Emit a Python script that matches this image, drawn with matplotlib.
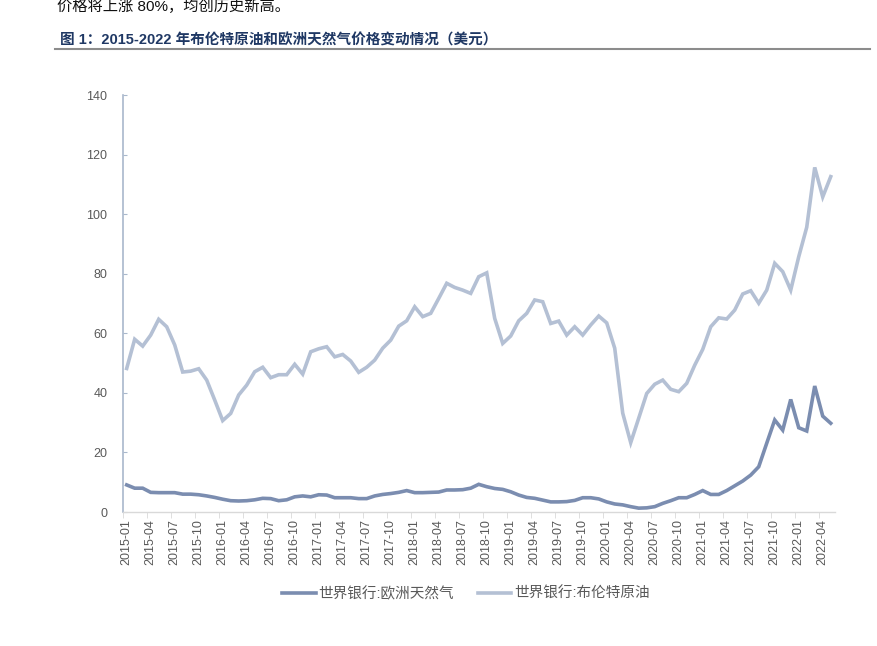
import matplotlib
matplotlib.use('Agg')
import matplotlib.pyplot as plt
import numpy as np

plt.rcParams['font.family'] = ['Liberation Sans', 'Noto Sans CJK SC', 'DejaVu Sans']

# monthly 2015-01 .. 2022-05
months = [f'{y}-{m:02d}' for y in range(2015, 2023) for m in range(1, 13)][:89]

brent = [48.2, 58.0, 55.7, 59.4, 64.7, 62.2, 56.1, 47.0, 47.3, 48.1, 44.3, 37.6,
         30.7, 33.1, 39.3, 42.6, 47.1, 48.6, 45.1, 46.1, 46.1, 49.6, 46.3, 53.8,
         54.8, 55.5, 52.1, 52.9, 50.7, 46.9, 48.6, 51.0, 55.0, 57.7, 62.4, 64.2,
         68.9, 65.6, 66.7, 71.7, 76.8, 75.4, 74.5, 73.4, 79.0, 80.3, 65.0, 56.6,
         59.1, 64.2, 66.7, 71.2, 70.6, 63.3, 64.1, 59.4, 62.2, 59.4, 62.8, 65.8,
         63.5, 55.0, 33.2, 23.3, 31.5, 39.8, 42.9, 44.3, 41.2, 40.4, 43.2, 49.3,
         54.6, 62.2, 65.2, 64.8, 67.8, 73.2, 74.3, 70.1, 74.5, 83.5, 80.7, 74.5,
         85.7, 95.6, 115.7, 105.8, 112.6]

eu_gas = [9.1, 8.0, 8.0, 6.6, 6.5, 6.5, 6.5, 6.0, 6.0, 5.8, 5.4, 4.9,
          4.3, 3.8, 3.7, 3.8, 4.1, 4.6, 4.5, 3.8, 4.1, 5.1, 5.4, 5.1,
          5.8, 5.7, 4.8, 4.8, 4.8, 4.5, 4.5, 5.4, 5.9, 6.2, 6.6, 7.2,
          6.5, 6.5, 6.6, 6.7, 7.4, 7.4, 7.5, 8.0, 9.3, 8.5, 7.9, 7.6,
          6.8, 5.7, 4.9, 4.6, 4.0, 3.4, 3.4, 3.5, 3.9, 4.8, 4.8, 4.4,
          3.4, 2.7, 2.4, 1.8, 1.3, 1.4, 1.8, 2.9, 3.8, 4.8, 4.8, 5.9,
          7.2, 5.9, 5.9, 7.2, 8.8, 10.4, 12.4, 15.2, 23.1, 30.9, 27.5, 37.8,
          28.3, 27.2, 42.3, 32.2, 29.8]

gas_color = '#7b8db0'
brent_color = '#b4c0d4'

fig = plt.figure(figsize=(8.77, 6.46), dpi=100)
ax = fig.add_axes([0.1399, 0.2074, 0.8119, 0.6455])

x = np.arange(len(months))
ax.plot(x, eu_gas, color=gas_color, lw=2.6, solid_joinstyle='miter', label='世界银行:欧洲天然气')
ax.plot(x, brent, color=brent_color, lw=2.6, solid_joinstyle='miter', label='世界银行:布伦特原油')

ax.set_xlim(-0.5, len(months) - 0.5)
ax.set_ylim(0, 140)
ax.set_yticks(range(0, 141, 20))

tick_idx = np.arange(0, len(months), 3)
ax.set_xticks(tick_idx)
ax.set_xticklabels([months[i] for i in tick_idx], rotation=90)
ax.set_xticks(tick_idx - 0.5, minor=True)
ax.tick_params(axis='x', which='major', length=0, pad=5, labelsize=9, labelcolor='#595959')
ax.tick_params(axis='x', which='minor', length=4, direction='out', color='#d9d9d9')
ax.tick_params(axis='y', length=3, direction='in', color='#a9b8cc', labelsize=9,
               labelcolor='#595959', pad=11)

for s in ['top', 'right']:
    ax.spines[s].set_visible(False)
ax.spines['left'].set_color('#a9b8cc')
ax.spines['left'].set_linewidth(1.2)
ax.spines['bottom'].set_color('#d9d9d9')
ax.spines['bottom'].set_linewidth(1.0)

fig.legend(loc='center', bbox_to_anchor=(466 / 877, 1 - 594 / 646), ncol=2, frameon=False,
           fontsize=10.5, handlelength=2.3, columnspacing=1.6, handletextpad=0.2,
           labelcolor='#595959')

fig.text(57 / 877, 1 - 6 / 646, '价格将上涨 80%，均创历史新高。', fontsize=11,
         va='center', ha='left', color='#111111')
fig.text(60 / 877, 1 - 40 / 646, '图 1：2015-2022 年布伦特原油和欧洲天然气价格变动情况（美元）',
         fontsize=10.5, fontweight='bold', va='center', ha='left', color='#1f3864')
fig.add_artist(plt.Line2D([55 / 877, 870 / 877], [1 - 48.5 / 646, 1 - 48.5 / 646],
                          color='#8c8c8c', lw=1.5))

fig.savefig('out.png', dpi=100)
